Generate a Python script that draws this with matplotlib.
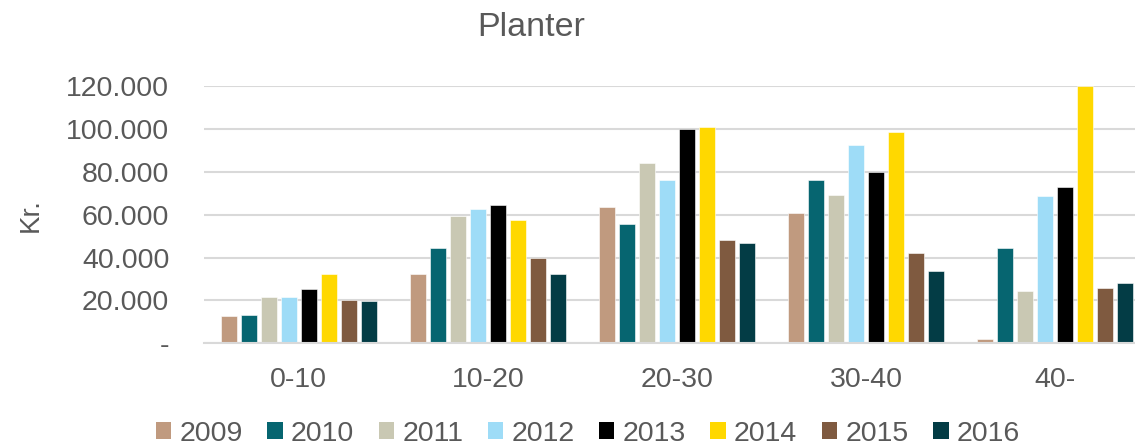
import matplotlib
matplotlib.use("Agg")
import matplotlib.pyplot as plt
from matplotlib.patches import Patch
import numpy as np

categories = ["0-10", "10-20", "20-30", "30-40", "40-"]
years = ["2009", "2010", "2011", "2012", "2013", "2014", "2015", "2016"]
v2009 = [12700, 32300, 63700, 60800, 1900]
v2010 = [13100, 44300, 55700, 76000, 44500]
v2011 = [21500, 59400, 84300, 69000, 24600]
v2012 = [21500, 62600, 76200, 92300, 68700]
v2013 = [25200, 64700, 99800, 79900, 72700]
v2014 = [32500, 57500, 100700, 98600, 120000]
v2015 = [20200, 40000, 48000, 42000, 25800]
v2016 = [19600, 32500, 46600, 33600, 28000]
series = [v2009, v2010, v2011, v2012, v2013, v2014, v2015, v2016]
colors = ["#C09A7F", "#066570", "#C9C8B3", "#9EDCF7", "#000000",
          "#FFD800", "#7F5A40", "#033C45"]
yticks = [0, 20000, 40000, 60000, 80000, 100000, 120000]

plt.rcParams['font.family'] = ['Liberation Sans', 'DejaVu Sans']
txt = "#595959"

fig = plt.figure(figsize=(11.35, 4.46), dpi=100)
W, H = 1135, 446
ax = fig.add_axes([204 / W, (H - 343.3) / H, (1150 - 204) / W, (343.3 - 86) / H])

x = np.arange(len(categories))
step = 20 / 189.25
bw = 16 / 189.25
for j, (vals, c) in enumerate(zip(series, colors)):
    ax.bar(x + (j - 3.5) * step, vals, width=bw, color=c, zorder=3,
           edgecolor="white", linewidth=0.4)

ax.set_xlim(-0.5, 4.5)
ax.set_ylim(0, 120000)
ax.set_yticks(yticks)
ax.set_yticklabels(["-" if v == 0 else f"{v:,}".replace(",", ".") for v in yticks])
ax.set_xticks(x)
ax.set_xticklabels(categories)
ax.tick_params(axis='y', length=0, pad=25, labelsize=20.5, labelcolor=txt)
ax.tick_params(axis='x', length=0, pad=17, labelsize=20.5, labelcolor=txt)
ax.grid(axis='y', color="#D9D9D9", linewidth=1.5, zorder=0)
ax.set_axisbelow(True)
for s in ["top", "right", "left"]:
    ax.spines[s].set_visible(False)
ax.spines["bottom"].set_color("#D9D9D9")
ax.spines["bottom"].set_linewidth(1.5)
ax.spines["bottom"].set_zorder(4)

fig.text(31 / W, (H - 215) / H, "Kr.", rotation=90, ha="center", va="center",
         fontsize=20, color=txt)
fig.text(531 / W, (H - 28) / H, "Planter", ha="center", va="center",
         fontsize=24.5, color=txt)

handles = [Patch(facecolor=c, edgecolor="none", label=y) for y, c in zip(years, colors)]
fig.legend(handles=handles, loc="center", bbox_to_anchor=(588 / W, 12 / H), ncol=8,
           frameon=False, fontsize=20.5, labelcolor=txt, handlelength=0.54,
           handleheight=0.54, handletextpad=0.29, columnspacing=0.86,
           borderaxespad=0, borderpad=0)

fig.savefig("out.png", dpi=100)
